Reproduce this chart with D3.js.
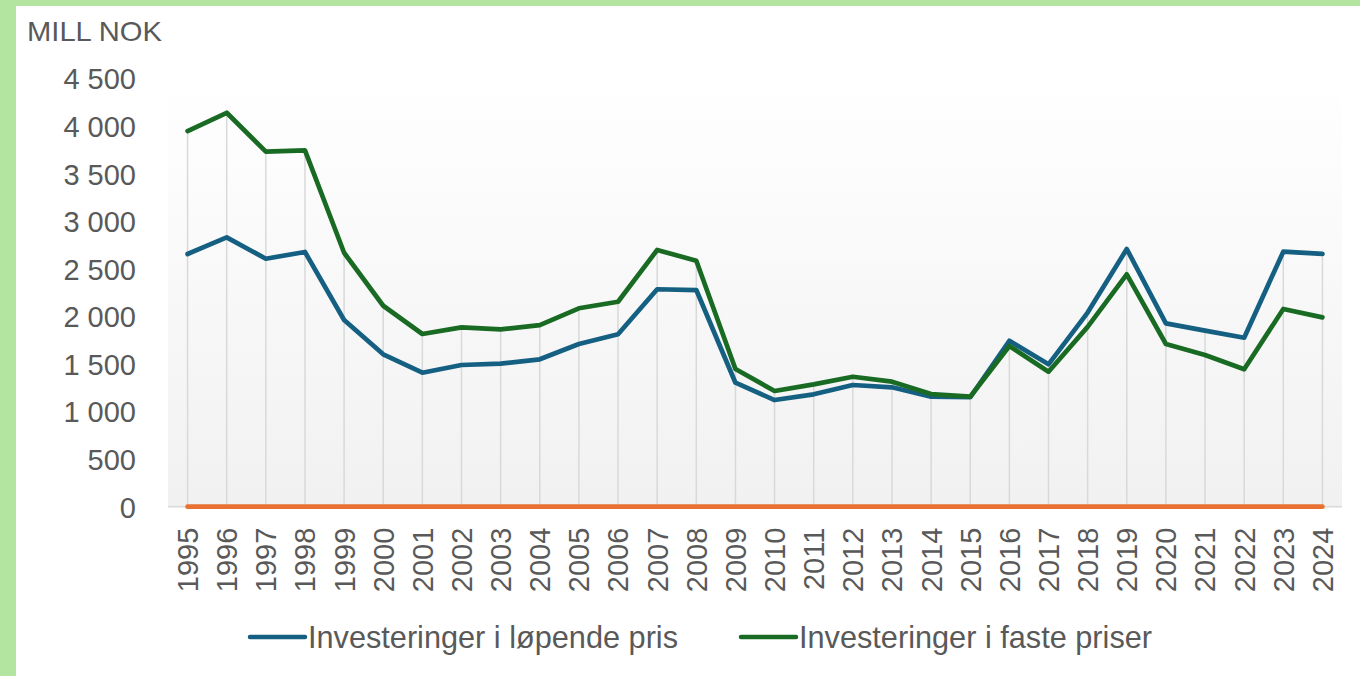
<!DOCTYPE html>
<html>
<head>
<meta charset="utf-8">
<script src="https://cdn.jsdelivr.net/npm/d3@7"></script>
<style>
    html, body { margin: 0; padding: 0; background: #fff; }
    body { width: 1360px; height: 676px; overflow: hidden; }
</style>
</head>
<body>
<div id="chart"></div>
<script>
// data
let years = ["1995", "1996", "1997", "1998", "1999", "2000", "2001", "2002", "2003", "2004",
    "2005", "2006", "2007", "2008", "2009", "2010", "2011", "2012", "2013", "2014",
    "2015", "2016", "2017", "2018", "2019", "2020", "2021", "2022", "2023", "2024"]

let lopendePris = [2656, 2831, 2606, 2677, 1962, 1602, 1408, 1489, 1503, 1549,
    1710, 1812, 2285, 2277, 1303, 1121, 1181, 1279, 1255, 1156,
    1150, 1744, 1496, 2040, 2708, 1927, 1850, 1776, 2680, 2656]

let fastePriser = [3948, 4140, 3731, 3745, 2669, 2112, 1815, 1885, 1864, 1909,
    2085, 2154, 2698, 2585, 1447, 1216, 1286, 1366, 1314, 1184,
    1156, 1689, 1419, 1890, 2442, 1710, 1594, 1444, 2078, 1990]

let nullSerie = [0, 0, 0, 0, 0, 0, 0, 0, 0, 0,
    0, 0, 0, 0, 0, 0, 0, 0, 0, 0,
    0, 0, 0, 0, 0, 0, 0, 0, 0, 0]

let yTicks = [0, 500, 1000, 1500, 2000, 2500, 3000, 3500, 4000, 4500]

let seriesNames = ["Investeringer i løpende pris", "Investeringer i faste priser"]

// layout
let width = 1360
let height = 676
let plotLeft = 168
let plotRight = 1342
let plotTop = 78.5
let plotBottom = 506.7

let blue = "#156082"
let green = "#196B24"
let orange = "#E97132"
let textColor = "#595959"

let nok = d3.formatLocale({ decimal: ",", thousands: " ", grouping: [3], currency: ["", ""] })

let svg = d3.select("#chart")
    .append("svg")
    .attr("width", width)
    .attr("height", height)
    .style("display", "block")

// green frame
svg.append("rect")
    .attr("x", 0).attr("y", 0)
    .attr("width", width).attr("height", 6)
    .attr("fill", "#b3e5a1")
svg.append("rect")
    .attr("x", 0).attr("y", 0)
    .attr("width", 16).attr("height", height)
    .attr("fill", "#b3e5a1")

let x = d3.scaleBand()
    .domain(years)
    .range([plotLeft, plotRight])
    .padding(0)

let y = d3.scaleLinear()
    .domain([0, 4500])
    .range([plotBottom, plotTop])

let cx = d => x(d) + x.bandwidth() / 2

// plot background gradient
let grad = svg.append("defs")
    .append("linearGradient")
    .attr("id", "bg")
    .attr("x1", 0).attr("y1", 0)
    .attr("x2", 0).attr("y2", 1)
grad.append("stop").attr("offset", "0%").attr("stop-color", "#ffffff")
grad.append("stop").attr("offset", "100%").attr("stop-color", "#f1f1f1")

svg.append("rect")
    .attr("x", plotLeft)
    .attr("y", plotTop)
    .attr("width", plotRight - plotLeft)
    .attr("height", plotBottom - plotTop)
    .attr("fill", "url(#bg)")

// drop lines
svg.append("g")
    .selectAll("line")
    .data(years)
    .enter()
    .append("line")
    .attr("x1", d => cx(d))
    .attr("x2", d => cx(d))
    .attr("y1", (d, i) => y(Math.max(lopendePris[i], fastePriser[i])))
    .attr("y2", y(0))
    .attr("stroke", "#d9d9d9")
    .attr("stroke-width", 1.5)

// category axis line
svg.append("line")
    .attr("x1", plotLeft)
    .attr("x2", plotRight)
    .attr("y1", y(0))
    .attr("y2", y(0))
    .attr("stroke", "#d9d9d9")
    .attr("stroke-width", 1.5)

// y axis
let yAxis = d3.axisLeft(y)
    .tickValues(yTicks)
    .tickFormat(nok.format(","))
    .tickSize(0)
    .tickPadding(32)

svg.append("g")
    .attr("class", "y axis")
    .attr("transform", "translate(" + plotLeft + ",0)")
    .call(yAxis)
    .call(g => g.select(".domain").remove())
    .selectAll("text")
    .attr("font-family", "'Liberation Sans', Arial, sans-serif")
    .attr("font-size", 29)
    .attr("fill", textColor)
    .attr("dy", "0.36em")

// x axis
let xAxis = d3.axisBottom(x)
    .tickSize(0)

svg.append("g")
    .attr("class", "x axis")
    .attr("transform", "translate(0," + y(0) + ")")
    .call(xAxis)
    .call(g => g.select(".domain").remove())
    .selectAll("text")
    .attr("font-family", "'Liberation Sans', Arial, sans-serif")
    .attr("font-size", 29)
    .attr("fill", textColor)
    .attr("text-anchor", "end")
    .attr("transform", "rotate(-90)")
    .attr("x", -21)
    .attr("y", 0)
    .attr("dy", "0.36em")

// lines
let line = d3.line()
    .x((d, i) => cx(years[i]))
    .y(d => y(d))

let series = [
    { values: lopendePris, color: blue },
    { values: fastePriser, color: green },
    { values: nullSerie, color: orange }
]

svg.append("g")
    .selectAll("path")
    .data(series)
    .enter()
    .append("path")
    .attr("d", d => line(d.values))
    .attr("fill", "none")
    .attr("stroke", d => d.color)
    .attr("stroke-width", 4.7)
    .attr("stroke-linejoin", "round")
    .attr("stroke-linecap", "round")

// unit label
svg.append("text")
    .attr("x", 27)
    .attr("y", 41)
    .attr("font-family", "'Liberation Sans', Arial, sans-serif")
    .attr("font-size", 28)
    .attr("fill", textColor)
    .attr("textLength", 135)
    .attr("lengthAdjust", "spacingAndGlyphs")
    .text("MILL NOK")

// legend
let legendItems = [
    { name: seriesNames[0], color: blue, x: 250, w: 370 },
    { name: seriesNames[1], color: green, x: 741, w: 353 }
]

let legend = svg.append("g")
    .selectAll("g")
    .data(legendItems)
    .enter()
    .append("g")
    .attr("transform", d => "translate(" + d.x + ",637)")

legend.append("line")
    .attr("x1", 0)
    .attr("x2", 55)
    .attr("stroke", d => d.color)
    .attr("stroke-width", 4.5)
    .attr("stroke-linecap", "round")

legend.append("text")
    .attr("x", 58)
    .attr("y", 11)
    .attr("font-family", "'Liberation Sans Narrow', 'Arial Narrow', sans-serif")
    .attr("font-size", 32)
    .attr("fill", textColor)
    .attr("textLength", d => d.w)
    .attr("lengthAdjust", "spacingAndGlyphs")
    .text(d => d.name)
</script>
</body>
</html>
